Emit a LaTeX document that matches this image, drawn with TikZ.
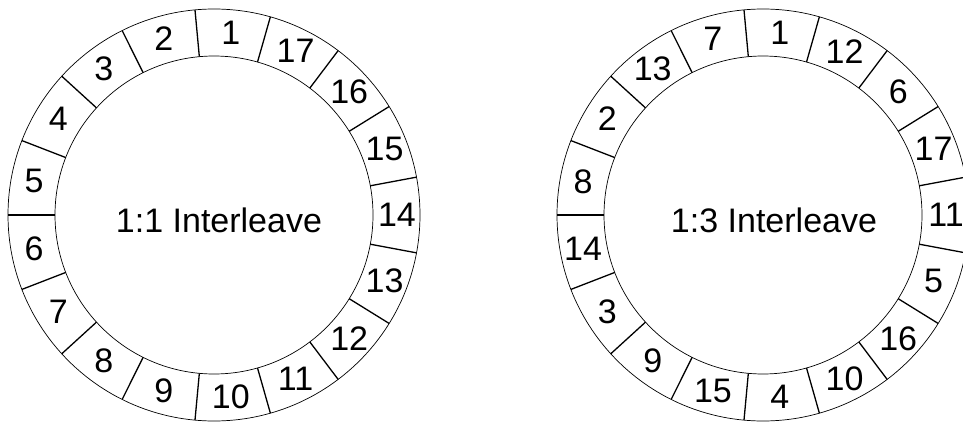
\documentclass[tikz,border=0pt]{standalone}
\usepackage{fontspec}
\setmainfont{Liberation Sans}
\usetikzlibrary{positioning}

\begin{document}
\begin{tikzpicture}[x=1pt,y=1pt,
    ring/.style={draw=black,line width=0.7pt},
    divider/.style={draw=black,line width=1.3pt},
    num/.style={font=\fontsize{34}{34}\selectfont,inner sep=0pt},
    title/.style={font=\fontsize{34}{34}\selectfont,inner sep=0pt},
  ]
    \useasboundingbox (0,0) rectangle (963,421);
    \clip (0,0) rectangle (963,421);
    % 1:1 interleave disk
    \begin{scope}[shift={(214,206)}]
      \draw[ring] (0,0) circle (206) (0,0) circle (159);
      \foreach \k in {0,...,16}
        \draw[divider] (180+\k*360/17:159) -- (180+\k*360/17:206);
      \foreach \n [count=\i from 0] in {1,...,17}
        \node[num] (l\n) at (84.7+\i*360/17:183) {\n};
      \node[title] (ltitle) at (5,-5) {1:1 Interleave};
    \end{scope}
    % 1:3 interleave disk
    \begin{scope}[shift={(763,206)}]
      \draw[ring] (0,0) circle (206) (0,0) circle (159);
      \foreach \k in {0,...,16}
        \draw[divider] (180+\k*360/17:159) -- (180+\k*360/17:206);
      \foreach \n [count=\i from 0] in {1,7,13,2,8,14,3,9,15,4,10,16,5,11,17,6,12}
        \node[num] (r\n) at (84.7+\i*360/17:183) {\n};
      \node[title] (rtitle) at (11,-5) {1:3 Interleave};
    \end{scope}
  \end{tikzpicture}
\end{document}
